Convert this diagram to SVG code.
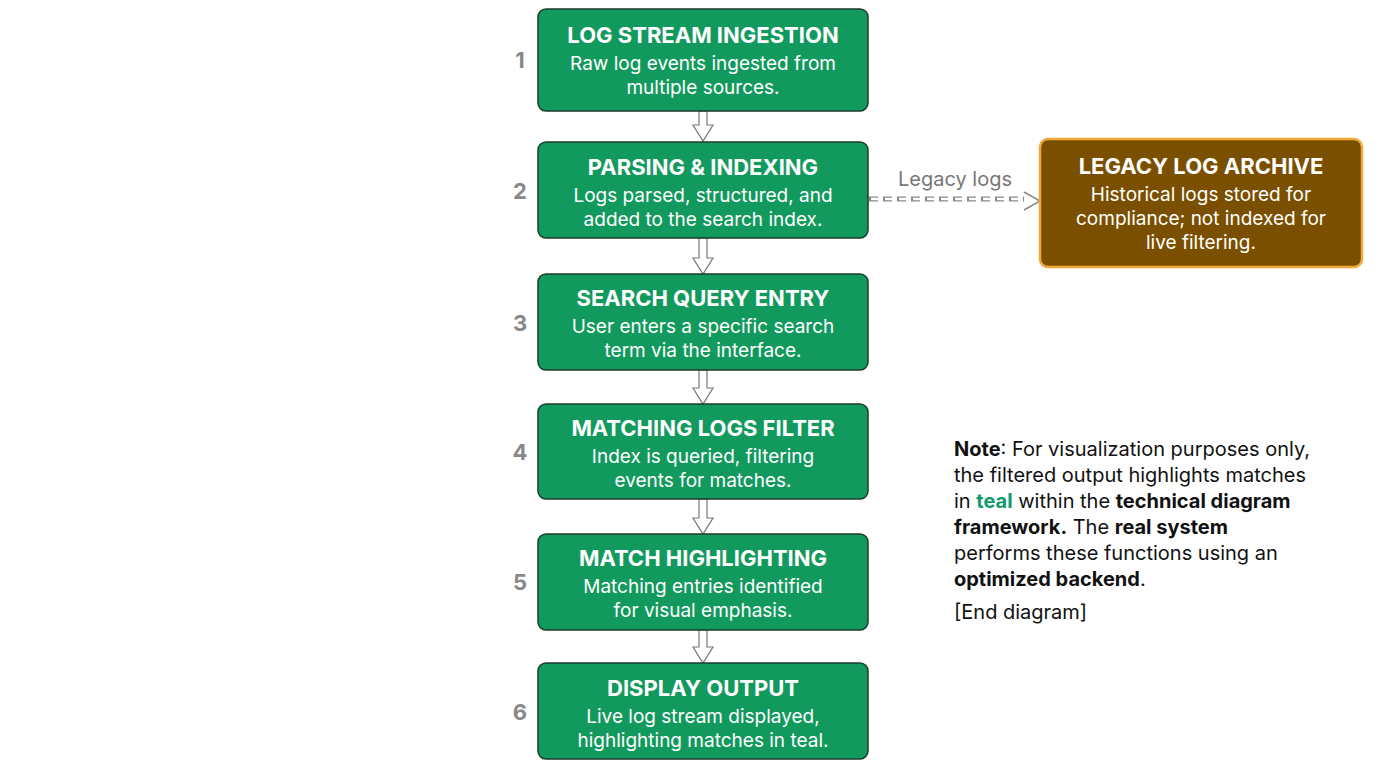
<svg xmlns="http://www.w3.org/2000/svg" width="1376" height="768" viewBox="0 0 1376 768">
<style>
.box{fill:#129a5e;stroke:#1d3b2b;stroke-width:1.5}
.t{font-family:Inter,"Noto Sans",sans-serif;font-weight:700;font-size:22px;fill:#fff;text-anchor:middle}
.d{font-family:Inter,"Noto Sans",sans-serif;font-size:19px;fill:#fff;text-anchor:middle}
.n{font-family:Inter,"Noto Sans",sans-serif;font-weight:700;font-size:22px;fill:#888;text-anchor:middle}
.arr{fill:#fff;stroke:#777;stroke-width:1.2}
.note{font-family:Inter,"Noto Sans",sans-serif;font-size:20px;fill:#111}
</style>
<rect width="1376" height="768" fill="#fff"/>
<g id="connectors">
<path class="arr" d="M699,111 h8 v14 h6 l-10,16 l-10,-16 h6 z"/>
<path class="arr" d="M699,238 h8 v20 h6 l-10,16 l-10,-16 h6 z"/>
<path class="arr" d="M699,370 h8 v18 h6 l-10,16 l-10,-16 h6 z"/>
<path class="arr" d="M699,499 h8 v19 h6 l-10,16 l-10,-16 h6 z"/>
<path class="arr" d="M699,630 h8 v17 h6 l-10,16 l-10,-16 h6 z"/>
<path d="M869,199 H1024" stroke="#888" stroke-width="5" stroke-dasharray="9,5" fill="none"/>
<path d="M870,199 H1024" stroke="#fff" stroke-width="2.5" stroke-dasharray="7,7" fill="none" transform="translate(1,0)"/>
<path d="M1024,192 L1040,201 L1024,210" fill="none" stroke="#888" stroke-width="1.5"/>
<text x="955" y="186" font-family="Inter,'Noto Sans',sans-serif" font-size="20" fill="#777" text-anchor="middle">Legacy logs</text>
</g>
<g id="n1"><rect class="box" x="538" y="9" width="330" height="102" rx="8"/><text class="n" x="520" y="68">1</text>
<text class="t" x="703" y="43">LOG STREAM INGESTION</text><text class="d" x="703" y="70">Raw log events ingested from</text><text class="d" x="703" y="94">multiple sources.</text></g>
<g id="n2"><rect class="box" x="538" y="142" width="330" height="96" rx="8"/><text class="n" x="520" y="199">2</text>
<text class="t" x="703" y="175">PARSING &amp; INDEXING</text><text class="d" x="703" y="202">Logs parsed, structured, and</text><text class="d" x="703" y="226">added to the search index.</text></g>
<g id="n3"><rect class="box" x="538" y="274" width="330" height="96" rx="8"/><text class="n" x="520" y="331">3</text>
<text class="t" x="703" y="306">SEARCH QUERY ENTRY</text><text class="d" x="703" y="333">User enters a specific search</text><text class="d" x="703" y="357">term via the interface.</text></g>
<g id="n4"><rect class="box" x="538" y="404" width="330" height="95" rx="8"/><text class="n" x="520" y="460">4</text>
<text class="t" x="703" y="436">MATCHING LOGS FILTER</text><text class="d" x="703" y="463">Index is queried, filtering</text><text class="d" x="703" y="487">events for matches.</text></g>
<g id="n5"><rect class="box" x="538" y="534" width="330" height="96" rx="8"/><text class="n" x="520" y="590">5</text>
<text class="t" x="703" y="566">MATCH HIGHLIGHTING</text><text class="d" x="703" y="593">Matching entries identified</text><text class="d" x="703" y="617">for visual emphasis.</text></g>
<g id="n6"><rect class="box" x="538" y="663" width="330" height="96" rx="8"/><text class="n" x="520" y="720">6</text>
<text class="t" x="703" y="696">DISPLAY OUTPUT</text><text class="d" x="703" y="723">Live log stream displayed,</text><text class="d" x="703" y="747">highlighting matches in teal.</text></g>
<g id="legacy"><rect x="1040" y="139" width="322" height="128" rx="8" fill="#7a5000" stroke="#f0a83a" stroke-width="2.5"/>
<text class="t" x="1201" y="174" font-size="23">LEGACY LOG ARCHIVE</text><text class="d" x="1201" y="201">Historical logs stored for</text><text class="d" x="1201" y="225">compliance; not indexed for</text><text class="d" x="1201" y="249">live filtering.</text></g>
<g id="note" class="note">
<text x="954" y="456"><tspan font-weight="700">Note</tspan>: For visualization purposes only,</text>
<text x="954" y="482">the filtered output highlights matches</text>
<text x="954" y="508">in <tspan font-weight="700" fill="#129a6e">teal</tspan> within the <tspan font-weight="700">technical diagram</tspan></text>
<text x="954" y="534"><tspan font-weight="700">framework.</tspan> The <tspan font-weight="700">real system</tspan></text>
<text x="954" y="560">performs these functions using an</text>
<text x="954" y="586"><tspan font-weight="700">optimized backend</tspan>.</text>
<text x="954" y="619">[End diagram]</text>
</g>
</svg>
